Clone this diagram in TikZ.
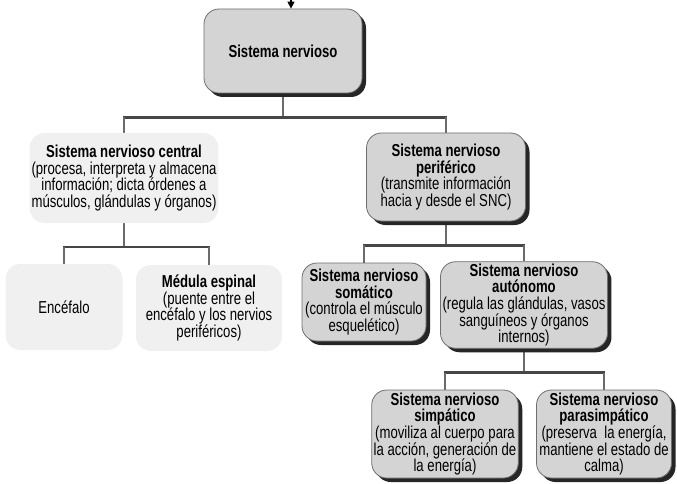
\documentclass[tikz,border=0pt]{standalone}
\usepackage{fontspec}
\setmainfont[FakeStretch=0.76]{Liberation Sans}
\usepackage{tikz}
\usetikzlibrary{shapes,arrows.meta,positioning,calc,shadows,backgrounds}
\usepackage{xcolor}
\definecolor{boxgray}{RGB}{212,212,212}
\definecolor{faintgray}{RGB}{240,240,240}
\definecolor{edgegray}{RGB}{110,110,110}
\definecolor{linegray}{RGB}{70,70,70}
\tikzset{
    box/.style={rectangle, rounded corners=15pt, draw=edgegray, line width=0.8pt, fill=boxgray,
        drop shadow={shadow xshift=4pt, shadow yshift=-4pt, fill=black!85, opacity=1},
        align=center, inner sep=2pt, font=\fontsize{17.3}{16.6}\selectfont},
    faintbox/.style={rectangle, rounded corners=15pt, fill=faintgray, align=center, inner sep=2pt,
        font=\fontsize{17.3}{16.6}\selectfont},
    stem/.style={line width=1.4pt, linegray!80},
    bar/.style={line width=2.4pt, linegray},
}

\begin{document}
\begin{tikzpicture}[x=1pt, y=-1pt]
    \useasboundingbox (0,0) rectangle (677,484);

    % Root
    \node[box, minimum width=158, minimum height=84] (sn) at (283,51) {\textbf{Sistema nervioso}};
    \coordinate (in) at (291,0);
    \draw[-{Triangle[length=7pt,width=7pt]}, line width=1.4pt] (in) -- (in |- sn.north);

    % Second level
    \node[faintbox, minimum width=186, minimum height=90] (snc) at (124,178)
        {\textbf{Sistema nervioso central}\\(procesa, interpreta y almacena\\información; dicta órdenes a\\músculos, glándulas y órganos)};
    \node[box, minimum width=159, minimum height=88] (snp) at (446,177)
        {\textbf{Sistema nervioso}\\\textbf{periférico}\\(transmite información\\hacia y desde el SNC)};

    % Third level
    \node[faintbox, minimum width=117, minimum height=86] (enc) at (64,307) {Encéfalo};
    \node[faintbox, minimum width=146, minimum height=86] (med) at (209,308)
        {\textbf{Médula espinal}\\(puente entre el\\encéfalo y los nervios\\periféricos)};
    \node[box, minimum width=124, minimum height=78] (sns) at (364,302)
        {\textbf{Sistema nervioso}\\\textbf{somático}\\(controla el músculo\\esquelético)};
    \node[box, minimum width=159, minimum height=86] (sna) at (524,305)
        {\textbf{Sistema nervioso}\\\textbf{autónomo}\\(regula las glándulas, vasos\\sanguíneos y órganos\\internos)};

    % Fourth level
    \node[box, minimum width=143, minimum height=88] (simp) at (445,434)
        {\textbf{Sistema nervioso}\\\textbf{simpático}\\(moviliza al cuerpo para\\la acción, generación de\\la energía)};
    \node[box, minimum width=135, minimum height=88] (para) at (604,434)
        {\textbf{Sistema nervioso}\\\textbf{parasimpático}\\(preserva\ \ la energía,\\mantiene el estado de\\calma)};

    % Branches
    \begin{scope}[on background layer]
    \foreach \p/\l/\r in {sn/snc/snp, snc/enc/med, snp/sns/sna, sna/simp/para} {
        \draw[stem] (\p.south) -- ++(0,24) coordinate (j);
        \draw[bar] ([xshift=-1.2pt]\l.north |- j) -- ([xshift=1.2pt]\r.north |- j);
        \draw[stem] (\l.north |- j) -- (\l.north);
        \draw[stem] (\r.north |- j) -- (\r.north);
    }
    \end{scope}
\end{tikzpicture}
\end{document}
